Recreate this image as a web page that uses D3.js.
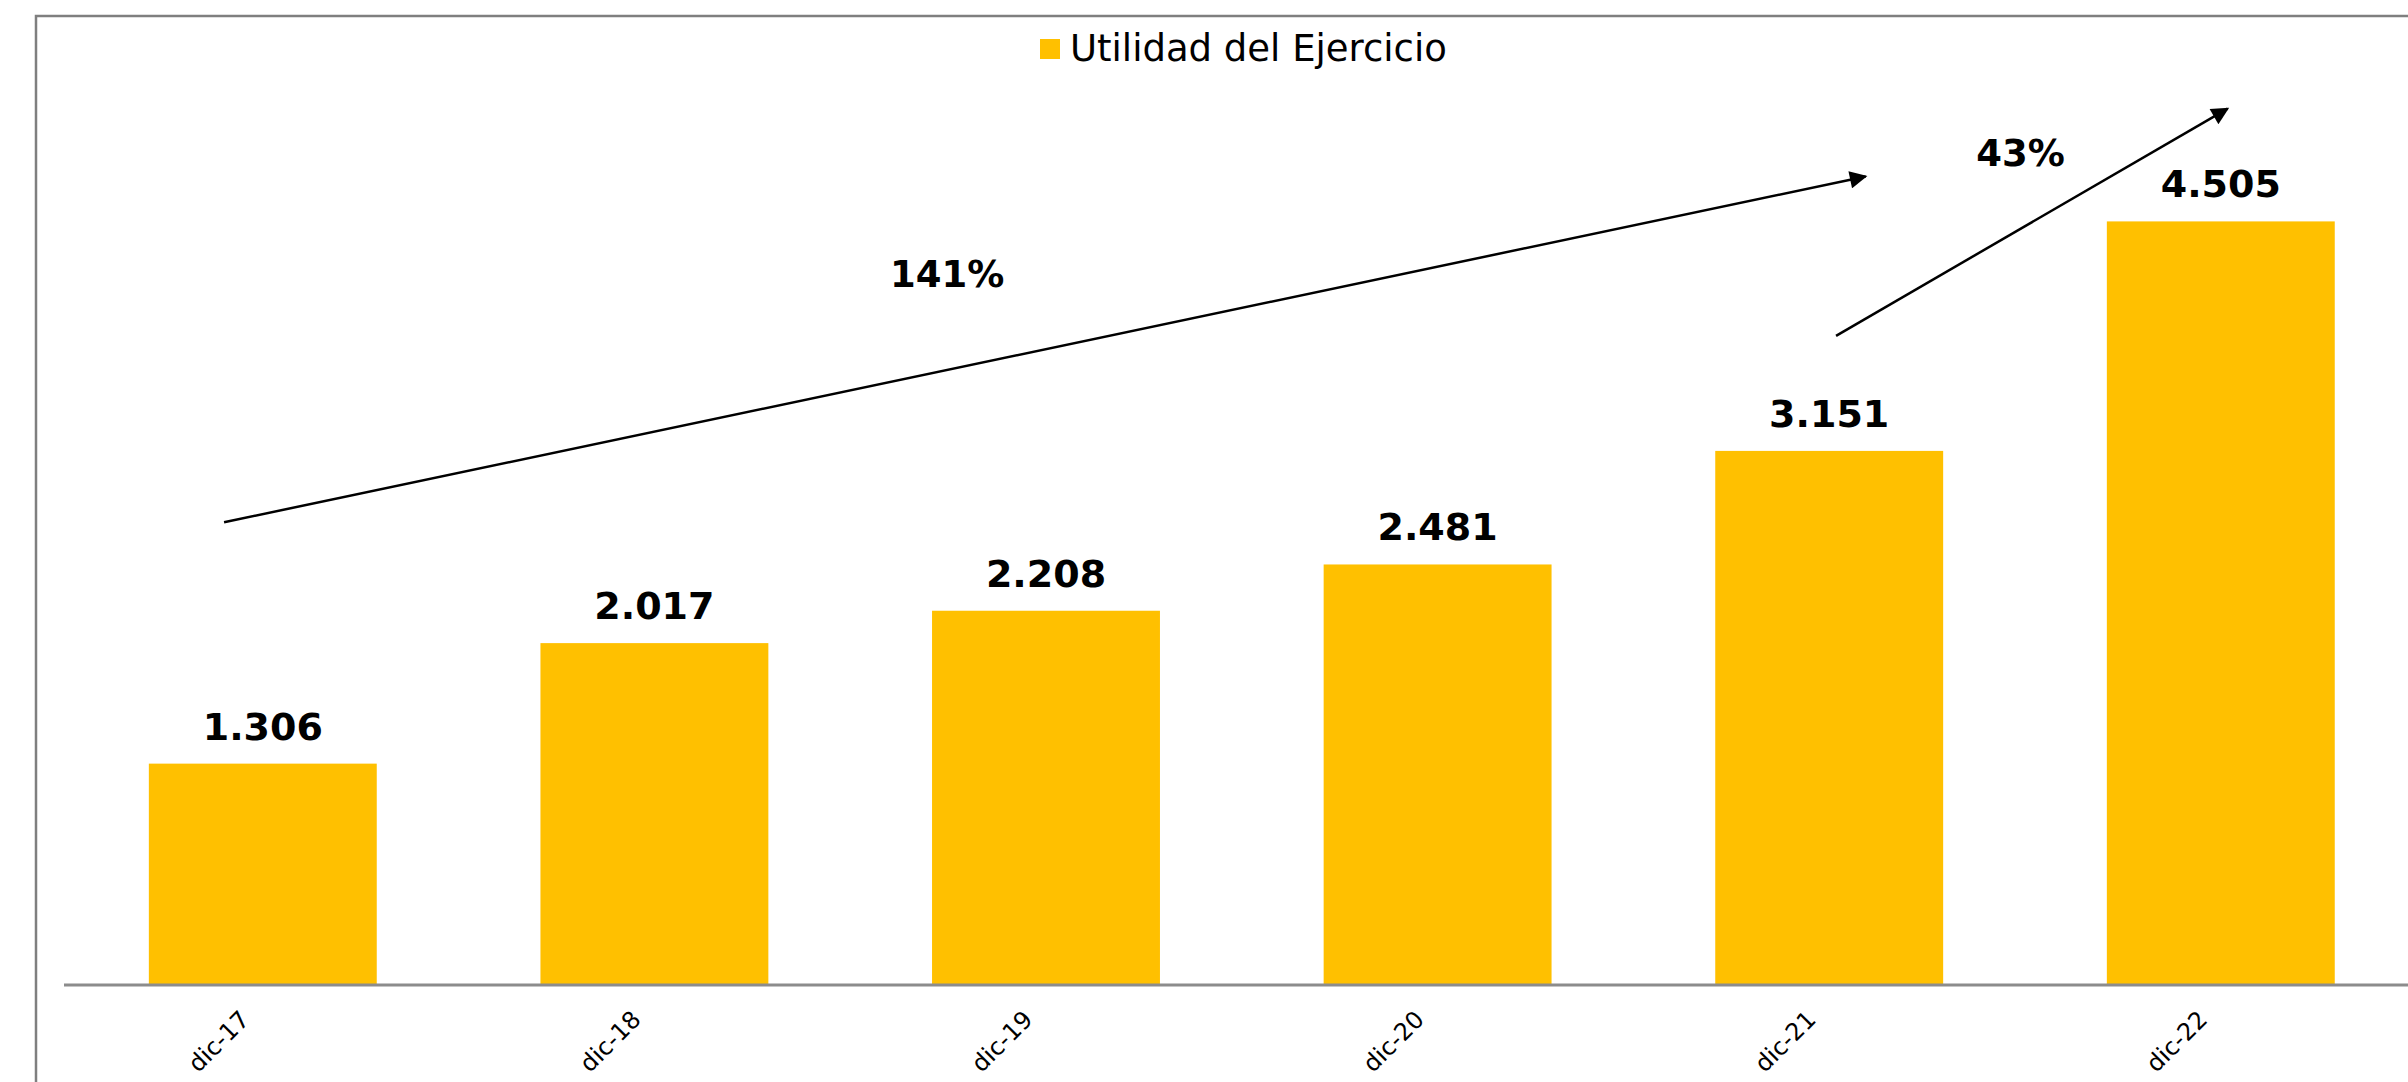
<!DOCTYPE html>
<html>
<head>
<meta charset="utf-8">
<script src="https://cdn.jsdelivr.net/npm/d3@7"></script>
<style>
  html, body { margin: 0; padding: 0; background: #ffffff; }
  svg { display: block; font-family: "DejaVu Sans", Verdana, sans-serif; }
</style>
</head>
<body>
<svg id="chart" width="2408" height="1082"></svg>
<script>
// Utilidad del Ejercicio, millones
const categories = ["dic-17", "dic-18", "dic-19", "dic-20", "dic-21", "dic-22"];
const values = [1306, 2017, 2208, 2481, 3151, 4505];
const seriesName = "Utilidad del Ejercicio";

// growth annotations: arrow from/to as [category, offset in band widths, value]
const growthLabels = ["141%", "43%"];
const growthFrom = [["dic-17", 0.33, 2730], ["dic-21", 0.53, 3830]];
const growthTo = [["dic-21", 0.66, 4770], ["dic-22", 0.53, 5170]];
const growthText = [["dic-19", 0.066, 4120], ["dic-21", 1.34, 4830]];

const W = 2408, H = 1082;
const FONT = "'DejaVu Sans', Verdana, sans-serif";
const svg = d3.select("#chart");

const es = d3.formatLocale({ decimal: ",", thousands: ".", grouping: [3], currency: ["$", ""] });
const fmt = es.format(",d");

const x = d3.scaleBand()
  .domain(categories)
  .range([67, 67 + 6 * 391.6])
  .paddingInner(0.418)
  .paddingOuter(0.209);

const y = d3.scaleLinear().domain([0, 5000]).range([985, 985 - 5 * 169.5]);

// outer frame
svg.append("rect")
  .attr("x", 36).attr("y", 16)
  .attr("width", W + 20).attr("height", H + 20)
  .attr("fill", "none").attr("stroke", "#7f7f7f").attr("stroke-width", 2.5);

// bars
svg.append("g").selectAll("rect")
  .data(values)
  .join("rect")
  .attr("x", (d, i) => x(categories[i]))
  .attr("y", d => y(d))
  .attr("width", x.bandwidth())
  .attr("height", d => y(0) - y(d))
  .attr("fill", "#FFC000");

// category axis
const xAxis = svg.append("g")
  .attr("transform", `translate(0,${y(0)})`)
  .call(d3.axisBottom(x).tickSize(0).tickSizeOuter(0))
  .attr("font-family", FONT);
xAxis.select(".domain").attr("stroke", "#8c8c8c").attr("stroke-width", 3)
  .attr("d", `M64,0H${W}`);
xAxis.selectAll(".tick text")
  .attr("font-size", 24)
  .attr("fill", "#000")
  .attr("text-anchor", "end")
  .attr("dy", 0)
  .attr("y", 0)
  .attr("transform", "translate(-12,36) rotate(-45)");

// value labels
svg.append("g").selectAll("text")
  .data(values)
  .join("text")
  .attr("x", (d, i) => x(categories[i]) + x.bandwidth() / 2)
  .attr("y", d => y(d) - 24)
  .attr("text-anchor", "middle")
  .attr("font-size", 38)
  .attr("font-weight", "bold")
  .attr("fill", "#000")
  .text(d => fmt(d));

// arrowhead
svg.append("defs").append("marker")
  .attr("id", "head")
  .attr("viewBox", "0 0 10 10")
  .attr("refX", 9).attr("refY", 5)
  .attr("markerWidth", 8).attr("markerHeight", 7)
  .attr("markerUnits", "strokeWidth")
  .attr("orient", "auto")
  .append("path").attr("d", "M0,0L10,5L0,10Z").attr("fill", "#000");

const px = p => x(p[0]) + p[1] * x.bandwidth();

svg.append("g").selectAll("line")
  .data(growthLabels)
  .join("line")
  .attr("x1", (d, i) => px(growthFrom[i]))
  .attr("y1", (d, i) => y(growthFrom[i][2]))
  .attr("x2", (d, i) => px(growthTo[i]))
  .attr("y2", (d, i) => y(growthTo[i][2]))
  .attr("stroke", "#000")
  .attr("stroke-width", 2.5)
  .attr("marker-end", "url(#head)");

svg.append("g").selectAll("text")
  .data(growthLabels)
  .join("text")
  .attr("x", (d, i) => px(growthText[i]))
  .attr("y", (d, i) => y(growthText[i][2]))
  .attr("text-anchor", "middle")
  .attr("font-size", 37)
  .attr("font-weight", "bold")
  .attr("fill", "#000")
  .text(d => d);

// legend
const lg = svg.append("g").attr("transform", "translate(1040,39)");
lg.append("rect").attr("width", 20).attr("height", 20).attr("fill", "#FFC000");
lg.append("text").attr("x", 30).attr("y", 22)
  .attr("font-size", 37).attr("fill", "#000").text(seriesName);
</script>
</body>
</html>
